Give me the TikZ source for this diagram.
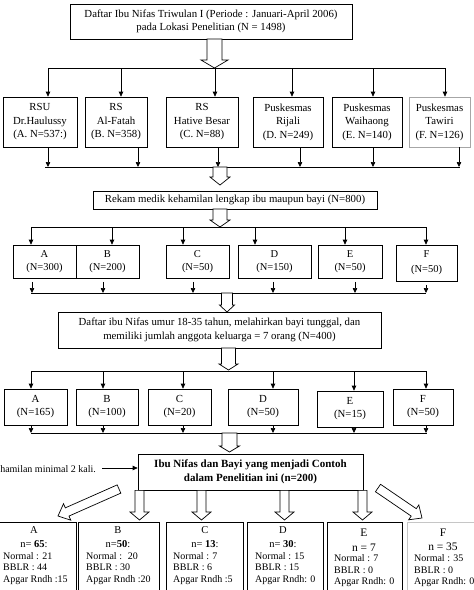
\documentclass[tikz,border=0pt]{standalone}
\usepackage{fontspec}
\setmainfont{Liberation Serif}
\usetikzlibrary{arrows.meta,calc}
\newcommand{\harrow}[5]{%
  \coordinate (hA) at (#1); \coordinate (hB) at (#2);
  \coordinate (hH) at ($(hB)!#5!(hA)$);
  \draw[hollow] ($(hA)!#3!90:(hB)$) -- ($(hH)!#3!90:(hB)$) -- ($(hH)!#4!90:(hB)$) -- (hB)
    -- ($(hH)!#4!-90:(hB)$) -- ($(hH)!#3!-90:(hB)$) -- ($(hA)!#3!-90:(hB)$) -- cycle;}
\begin{document}
\begin{tikzpicture}[x=1pt,y=-1pt,
  box/.style={draw,line width=0.7pt,inner sep=0pt,align=center,font=\fontsize{10.8}{13.5}\selectfont},
  arr/.style={line width=0.7pt,-{Triangle[length=5pt,width=4.5pt]}},
  bus/.style={line width=0.7pt},
  hollow/.style={draw,line width=0.7pt,fill=white,line join=miter},
  txt/.style={inner sep=0pt,font=\fontsize{10}{11.5}\selectfont},
  ttl/.style={inner sep=0pt,align=center,font=\fontsize{10.5}{14}\selectfont}]
\useasboundingbox (0,0) rectangle (474,590);
\clip (0,0) rectangle (474,590);

% top
\node[box,minimum width=282pt,minimum height=35pt] (top) at (211,21.5)
  {Daftar Ibu Nifas Triwulan I (Periode : Januari-April 2006)\\pada Lokasi Penelitian (N = 1498)};
\coordinate (h1s) at (214.5,39); \coordinate (h1e) at (214.5,68);
\harrow{h1s}{h1e}{7.5pt}{13.5pt}{8pt}
\coordinate (b1l) at (48,68); \coordinate (b1r) at (445,68);
\draw[bus] (b1l) -- (b1r);

% row 1
\node[box,minimum width=74pt,minimum height=50pt] (r1a) at (40,122) {RSU\\Dr.Haulussy\\(A. N=537:)};
\node[box,minimum width=62pt,minimum height=50pt] (r1b) at (116,122) {RS\\Al-Fatah\\(B. N=358)};
\node[box,minimum width=72pt,minimum height=50pt] (r1c) at (202,122) {RS\\Hative Besar\\(C. N=88)};
\node[box,minimum width=70pt,minimum height=50pt] (r1d) at (288,122) {Puskesmas\\Rijali\\(D. N=249)};
\node[box,minimum width=70pt,minimum height=50pt] (r1e) at (367,122) {Puskesmas\\Waihaong\\(E. N=140)};
\node[box,draw=gray!70,minimum width=61pt,minimum height=50pt] (r1f) at (439.5,122) {Puskesmas\\Tawiri\\(F. N=126)};
\foreach \x/\n in {48/r1a,121/r1b,215/r1c,292/r1d,373/r1e,445/r1f}
  \draw[arr] (\x,0 |- b1l) -- (\x,0 |- \n.north);
\coordinate (b2l) at (45,167); \coordinate (b2r) at (460,167);
\draw[bus] (b2l) -- (b2r);
\foreach \x/\n in {48/r1a,138/r1b,218/r1c,300/r1d,373/r1e,459/r1f}
  \draw[arr] (\x,0 |- \n.south) -- (\x,0 |- b2l);

% rekam
\coordinate (h2s) at (220,167); \coordinate (h2e) at (220,185);
\harrow{h2s}{h2e}{7pt}{10pt}{8pt}
\node[box,minimum width=284pt,minimum height=18pt] (rek) at (235,200) {Rekam medik kehamilan lengkap ibu maupun bayi (N=800)};
\coordinate (h3s) at (220,209); \coordinate (h3e) at (220,227);
\harrow{h3s}{h3e}{7pt}{10pt}{7pt}
\coordinate (b3l) at (31,227); \coordinate (b3r) at (426,227);
\draw[bus] (b3l) -- (b3r);

% row 2
\tikzset{r2/.style={box,minimum height=33pt,font=\fontsize{10.5}{13}\selectfont}}
\node[r2,minimum width=63pt] (r2a) at (44.5,261.5) {A\\(N=300)};
\node[r2,minimum width=63pt] (r2b) at (107.5,261.5) {B\\(N=200)};
\node[r2,minimum width=63pt] (r2c) at (197.5,261.5) {C\\(N=50)};
\node[r2,minimum width=73pt] (r2d) at (274.5,261.5) {D\\(N=150)};
\node[r2,minimum width=64pt] (r2e) at (350,261.5) {E\\(N=50)};
\node[r2,minimum width=61pt,minimum height=36pt,font=\fontsize{10.5}{15}\selectfont] (r2f) at (426.5,263) {F\\(N=50)};
\foreach \x/\n in {31/r2a,112/r2b,183/r2c,255/r2d,345/r2e,426/r2f}
  \draw[arr] (\x,0 |- b3l) -- (\x,0 |- \n.north);
\coordinate (b4l) at (31,293); \coordinate (b4r) at (426,293);
\draw[bus] (b4l) -- (b4r);
\foreach \x/\n in {32/r2a,103/r2b,193/r2c,273/r2d,355/r2e,426/r2f}
  \draw[arr,shorten <=3.5pt] (\x,0 |- \n.south) -- (\x,0 |- b4l);

% ibu 400
\coordinate (h4s) at (227,293); \coordinate (h4e) at (227,312);
\harrow{h4s}{h4e}{5.5pt}{7.5pt}{7pt}
\node[box,minimum width=323pt,minimum height=36pt] (i400) at (219.5,330)
  {Daftar ibu Nifas umur 18-35 tahun, melahirkan bayi tunggal, dan\\memiliki jumlah anggota keluarga = 7 orang (N=400)};
\coordinate (h5s) at (228.5,348); \coordinate (h5e) at (228.5,370);
\harrow{h5s}{h5e}{7pt}{9.5pt}{6pt}
\coordinate (b5l) at (31,371); \coordinate (b5r) at (427,371);
\draw[bus] (b5l) -- (b5r);

% row 3
\tikzset{r3/.style={box,minimum height=36pt,font=\fontsize{10.8}{13}\selectfont}}
\node[r3,minimum width=63pt] (r3a) at (35.5,407) {A\\(N=165)};
\node[r3,minimum width=62pt] (r3b) at (107,407) {B\\(N=100)};
\node[r3,minimum width=63pt] (r3c) at (179.5,407) {C\\(N=20)};
\node[r3,minimum width=70pt] (r3d) at (263,407) {D\\(N=50)};
\node[r3,minimum width=66pt] (r3e) at (350,409) {E\\(N=15)};
\node[r3,minimum width=60pt] (r3f) at (423,407) {F\\(N=50)};
\foreach \x/\n in {31/r3a,103/r3b,183/r3c,273/r3d,354/r3e,426/r3f}
  \draw[arr] (\x,0 |- b5l) -- (\x,0 |- \n.north);
\coordinate (b6l) at (31,433); \coordinate (b6r) at (427,433);
\draw[bus] (b6l) -- (b6r);
\foreach \x/\n in {31/r3a,103/r3b,183/r3c,273/r3d,354/r3e,426/r3f}
  \draw[arr] (\x,0 |- \n.south) -- (\x,0 |- b6l);

% final
\coordinate (h6s) at (229.5,433); \coordinate (h6e) at (229.5,452);
\harrow{h6s}{h6e}{7.5pt}{10pt}{6pt}
\node[box,minimum width=225pt,minimum height=36pt,font=\bfseries\fontsize{11}{14}\selectfont] (fin) at (250.5,472)
  {Ibu Nifas dan Bayi yang menjadi Contoh\\dalam Penelitian ini (n=200)};
\node[txt,anchor=east] (note) at (96,469) {hamilan minimal 2 kali.};
\coordinate (nt) at (102,468);
\draw[arr] (nt) -- (nt -| fin.west);

% bottom boxes
\tikzset{bb/.style={draw,line width=0.7pt,inner sep=0pt,minimum height=78pt}}
\node[bb,minimum width=86pt] (ba) at (33,561) {};
\node[bb,minimum width=81pt] (bb) at (118.5,561) {};
\node[bb,minimum width=77pt] (bc) at (204.5,561) {};
\node[bb,minimum width=76pt] (bd) at (285,561) {};
\node[bb,minimum width=75pt] (be) at (364.5,561) {};
\node[bb,draw=gray!45,minimum width=77pt] (bf) at (445.5,561) {};

% bottom hollow arrows
\coordinate (d1s) at (119,489); \coordinate (d1e) at (58,516);
\harrow{d1s}{d1e}{4.5pt}{9pt}{10pt}
\foreach \x/\n in {139.5/bb,201.5/bc,284.5/bd,362.5/be}{
  \coordinate (vs) at (\x,0 |- fin.south); \coordinate (ve) at (\x,520);
  \harrow{vs}{ve}{4.5pt}{9.5pt}{8pt}}
\coordinate (d2s) at (378,488); \coordinate (d2e) at (422,518);
\harrow{d2s}{d2e}{4.5pt}{9pt}{10pt}

% bottom texts
\node[ttl] (ta) at (34,537.5) {A\\n= \textbf{65}:};
\node[ttl] (tb) at (118,537.5) {B\\n=\textbf{50}:};
\node[ttl] (tc) at (205,537.5) {C\\n= \textbf{13}:};
\node[ttl] (td) at (283,537.5) {D\\n= \textbf{30}:};
\node[ttl,font=\fontsize{11.5}{14.5}\selectfont] (te) at (364,540) {E\\n = 7};
\node[ttl,font=\fontsize{11.5}{14.5}\selectfont] (tf) at (443,540) {F\\n = 35};
\node[txt,align=left,anchor=west] (da) at (3,568.5) {Normal : 21\\BBLR : 44\\Apgar Rndh :15};
\node[txt,align=left,anchor=west] (db) at (86,568.5) {Normal : \ 20\\BBLR : 30\\Apgar Rndh :20};
\node[txt,align=left,anchor=west] (dc) at (173,568.5) {Normal : 7\\BBLR : 6\\Apgar Rndh :5};
\node[txt,align=left,anchor=west] (dd) at (255,568.5) {Normal : 15\\BBLR : 15\\Apgar Rndh: 0};
\node[txt,align=left,anchor=west] (de) at (334,571) {Normal : 7\\BBLR : 0\\Apgar Rndh: 0};
\node[txt,align=left,anchor=west] (df) at (414,571) {Normal : 35\\BBLR : 0\\Apgar Rndh: 0};
\end{tikzpicture}
\end{document}
